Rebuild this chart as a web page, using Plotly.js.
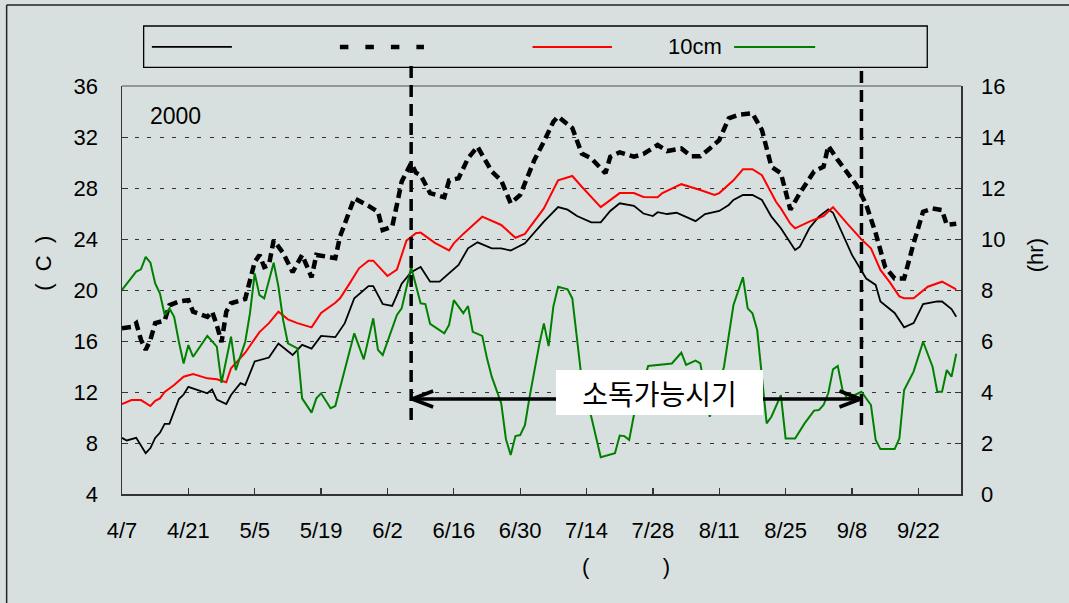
<!DOCTYPE html>
<html>
<head>
<meta charset="utf-8">
<script src="https://cdn.plot.ly/plotly-3.0.1.min.js"></script>
<style>html,body{margin:0;padding:0;background:#d8e0df;}</style>
</head>
<body>
<div id="chart" style="width:1069px;height:603px;"></div>
<script>
// ---- data (year 2000) ----
const airDates = ['4/7','4/8','4/10','4/12','4/13','4/14','4/15','4/16','4/17','4/19','4/20','4/21','4/23','4/25','4/26','4/27','4/29','4/30','5/2','5/3','5/5','5/7','5/8','5/10','5/13','5/15','5/17','5/19','5/22','5/24','5/26','5/29','5/30','6/1','6/3','6/4','6/5','6/7','6/9','6/11','6/13','6/17','6/19','6/21','6/24','6/26','6/28','7/1','7/5','7/8','7/10','7/12','7/15','7/17','7/19','7/21','7/24','7/26','7/28','7/29','7/31','8/2','8/4','8/6','8/8','8/11','8/13','8/14','8/16','8/18','8/20','8/22','8/24','8/27','8/28','8/30','9/1','9/3','9/4','9/6','9/8','9/11','9/13','9/14','9/17','9/19','9/21','9/23','9/26','9/27','9/29','9/30'];
const airTemp = [8.4,8.2,8.4,7.2,7.6,8.4,8.8,9.5,9.5,11.45,11.8,12.4,12.15,11.9,12.2,11.4,11.06,11.76,12.7,12.55,14.4,14.6,14.7,15.8,14.9,15.7,15.4,16.4,16.3,17.4,19.35,20.3,20.3,18.9,18.75,19.6,20.5,21.4,21.8,20.65,20.65,21.96,23.27,23.74,23.27,23.27,23.1,23.66,25.36,26.5,26.3,25.8,25.3,25.3,26.2,26.8,26.6,26.0,25.8,26.1,25.96,26.06,25.7,25.4,25.96,26.2,26.67,27.06,27.45,27.45,27.06,25.75,24.84,23.14,23.4,24.84,25.75,26.33,26.06,24.45,22.75,20.9,20.4,19.1,18.2,17.07,17.4,18.9,19.1,19.1,18.5,17.9];

const maxDates = ['4/7','4/9','4/10','4/11','4/12','4/13','4/14','4/16','4/17','4/19','4/21','4/22','4/25','4/26','4/27','4/28','4/29','4/30','5/3','5/5','5/6','5/7','5/8','5/9','5/11','5/13','5/15','5/17','5/18','5/22','5/23','5/26','5/29','5/31','6/1','6/3','6/4','6/5','6/7','6/8','6/9','6/11','6/14','6/15','6/17','6/19','6/21','6/24','6/26','6/28','6/30','7/3','7/5','7/7','7/8','7/11','7/13','7/15','7/18','7/19','7/21','7/24','7/26','7/29','7/31','8/3','8/5','8/7','8/9','8/11','8/13','8/15','8/18','8/20','8/22','8/24','8/26','8/28','8/31','9/2','9/3','9/5','9/9','9/11','9/13','9/15','9/17','9/19','9/21','9/23','9/25','9/27','9/28','9/30'];
const maxTemp = [17.0,17.1,17.4,16.1,15.3,16.1,17.4,17.6,18.8,19.1,19.2,18.3,17.9,18.3,17.25,15.9,18.3,18.96,19.3,22.2,22.75,21.8,21.96,23.9,22.9,21.4,22.75,21.0,22.75,22.5,24.2,27.2,26.6,26.14,24.7,24.97,26.7,28.5,29.94,29.2,29.0,27.6,27.27,28.6,28.76,30.33,31.24,29.3,28.6,26.8,27.45,30.2,31.63,33.2,33.6,32.7,30.7,30.33,29.16,30.45,30.8,30.45,30.67,31.37,30.9,31.1,30.5,30.5,31.1,31.76,33.46,33.73,33.86,32.55,29.67,29.16,26.3,27.6,29.3,29.67,31.3,30.2,28.2,26.7,24.45,21.8,20.9,20.9,23.66,26.14,26.4,26.27,25.1,25.2];

const soilDates = ['4/7','4/9','4/11','4/13','4/14','4/15','4/16','4/18','4/20','4/22','4/25','4/27','4/29','4/30','5/3','5/6','5/8','5/10','5/12','5/14','5/17','5/19','5/22','5/23','5/25','5/27','5/29','5/30','6/2','6/4','6/6','6/8','6/9','6/12','6/15','6/16','6/18','6/22','6/26','6/29','7/1','7/5','7/8','7/11','7/13','7/17','7/21','7/24','7/26','7/29','7/30','8/3','8/7','8/10','8/11','8/14','8/16','8/18','8/20','8/23','8/24','8/26','8/27','8/30','9/2','9/4','9/7','9/10','9/12','9/14','9/16','9/18','9/19','9/21','9/24','9/27','9/30'];
const soilTemp10cm = [11.06,11.37,11.37,10.9,11.3,11.5,12.0,12.55,13.2,13.4,13.07,13.0,12.76,13.86,15.08,16.7,17.4,18.3,17.7,17.4,17.07,18.2,19.0,19.35,20.5,21.7,22.3,22.3,21.1,21.6,23.87,24.45,24.5,23.7,23.1,23.66,24.4,25.75,25.1,24.1,24.4,26.4,28.6,28.94,28.1,26.5,27.6,27.6,27.3,27.27,27.6,28.3,27.84,27.45,27.6,28.6,29.47,29.47,29.0,26.9,26.4,25.2,24.84,25.36,25.8,26.5,25.2,23.97,23.27,21.57,20.6,19.5,19.35,19.35,20.26,20.65,20.05];

const sunDates = ['4/7','4/8','4/10','4/11','4/12','4/13','4/14','4/15','4/16','4/17','4/18','4/19','4/20','4/21','4/22','4/25','4/27','4/28','4/30','5/1','5/3','5/4','5/5','5/6','5/7','5/9','5/10','5/11','5/12','5/14','5/15','5/17','5/18','5/19','5/21','5/22','5/23','5/26','5/28','5/30','5/31','6/1','6/4','6/5','6/7','6/8','6/9','6/10','6/11','6/14','6/15','6/16','6/18','6/19','6/20','6/22','6/23','6/24','6/26','6/27','6/28','6/29','6/30','7/1','7/2','7/4','7/5','7/6','7/7','7/8','7/10','7/11','7/12','7/13','7/15','7/17','7/20','7/21','7/22','7/23','7/24','7/27','8/1','8/3','8/4','8/6','8/7','8/9','8/12','8/14','8/16','8/17','8/18','8/19','8/20','8/21','8/22','8/24','8/25','8/27','8/29','8/31','9/1','9/2','9/3','9/4','9/5','9/6','9/7','9/10','9/12','9/13','9/14','9/17','9/18','9/19','9/21','9/23','9/25','9/26','9/27','9/28','9/29','9/30'];
const sunHours = [8.0,8.24,8.72,8.81,9.3,9.07,8.26,7.87,7.02,7.28,6.95,5.97,5.12,5.84,5.38,6.2,5.78,4.36,6.17,4.86,5.97,7.09,8.65,7.8,7.67,9.07,8.13,6.82,5.91,5.71,3.75,3.19,3.75,3.95,3.36,3.45,4.14,6.3,5.28,6.89,5.65,5.45,7.02,7.28,8.89,8.13,7.48,7.45,6.67,6.3,6.63,7.6,7.09,7.37,6.36,6.2,5.32,4.6,3.56,2.15,1.53,2.27,2.31,2.7,3.82,5.84,6.69,5.8,7.35,8.13,8.03,7.67,6.04,4.47,3.03,1.44,1.6,2.29,2.27,2.12,3.1,5.02,5.12,5.54,5.06,5.23,5.12,3.03,4.99,7.41,8.5,7.28,7.09,6.43,4.6,2.77,3.03,3.88,2.18,2.18,2.77,3.27,3.29,3.49,3.95,4.89,5.02,4.08,3.75,4.01,3.49,2.12,1.76,1.76,2.18,4.08,4.8,5.97,4.99,4.01,4.01,4.86,4.6,5.5];

const yearLabel = '2000';
const soilLegendLabel = '10cm';
const periodLabel = '소독가능시기';
const periodStart = '6/7';
const periodEnd = '9/10';
const periodArrowLevel = 11.45;

// ---- helpers ----
const YEAR = 2000;
function toISO(md) {
  const [m, d] = md.split('/').map(Number);
  return YEAR + '-' + String(m).padStart(2, '0') + '-' + String(d).padStart(2, '0');
}

const FONT = 'Liberation Sans, Arial, sans-serif';
const BG = '#d8e0df';

const traces = [
  { x: airDates.map(toISO), y: airTemp, type: 'scatter', mode: 'lines',
    line: { color: '#000000', width: 1.8 }, yaxis: 'y', hoverinfo: 'skip' },
  { x: maxDates.map(toISO), y: maxTemp, type: 'scatter', mode: 'lines',
    line: { color: '#000000', width: 4.5, dash: '9px,5px' }, yaxis: 'y', hoverinfo: 'skip' },
  { x: soilDates.map(toISO), y: soilTemp10cm, type: 'scatter', mode: 'lines',
    line: { color: '#ff0000', width: 2 }, yaxis: 'y', hoverinfo: 'skip' },
  { x: sunDates.map(toISO), y: sunHours, type: 'scatter', mode: 'lines',
    line: { color: '#008000', width: 2 }, yaxis: 'y2', hoverinfo: 'skip' }
];

const ps = toISO(periodStart), pe = toISO(periodEnd);
const headLines = (anchor, sgn) => [8, -8].map(dy => ({
  type: 'line', xref: 'x', yref: 'y', xsizemode: 'pixel', ysizemode: 'pixel',
  xanchor: anchor, yanchor: periodArrowLevel,
  x0: sgn * 1, y0: 0, x1: sgn * 22, y1: dy,
  line: { color: '#000', width: 3.5 }, layer: 'above'
}));

const shapes = [
  // plot-area top border
  { type: 'line', xref: 'paper', yref: 'paper', x0: 0, x1: 1, y0: 1, y1: 1, line: { color: '#7f7f7f', width: 1.5 } },
  // outer frame (left and top visible)
  { type: 'line', xref: 'paper', yref: 'paper', x0: -0.1375, x1: -0.1375, y0: -0.3, y1: 1.1985, line: { color: '#222', width: 1.5 } },
  { type: 'line', xref: 'paper', yref: 'paper', x0: -0.1375, x1: 1.2, y0: 1.1985, y1: 1.1985, line: { color: '#222', width: 1.5 } },
  // legend box and samples
  { type: 'rect', xref: 'paper', yref: 'paper', x0: 0.0258, x1: 0.9598, y0: 1.0458, y1: 1.147, line: { color: '#000', width: 1.3 }, fillcolor: 'rgba(0,0,0,0)' },
  { type: 'line', xref: 'paper', yref: 'paper', x0: 0.0356, x1: 0.1310, y0: 1.0958, y1: 1.0958, line: { color: '#000', width: 1.8 } },
  { type: 'line', xref: 'paper', yref: 'paper', x0: 0.2597, x1: 0.3599, y0: 1.0958, y1: 1.0958, line: { color: '#000', width: 4.5, dash: '8.5px,17px' } },
  { type: 'line', xref: 'paper', yref: 'paper', x0: 0.4893, x1: 0.5840, y0: 1.0958, y1: 1.0958, line: { color: '#ff0000', width: 2 } },
  { type: 'line', xref: 'paper', yref: 'paper', x0: 0.7296, x1: 0.8262, y0: 1.0958, y1: 1.0958, line: { color: '#008000', width: 2 } },
  // period boundaries
  { type: 'line', xref: 'x', yref: 'paper', x0: ps, x1: ps, y0: 0.1814, y1: 1.0537, line: { color: '#000', width: 3.5, dash: '12px,7px' }, layer: 'above' },
  { type: 'line', xref: 'x', yref: 'paper', x0: pe, x1: pe, y0: 0.169, y1: 1.0537, line: { color: '#000', width: 3.5, dash: '12px,7px' }, layer: 'above' },
  // period arrow
  { type: 'line', xref: 'x', yref: 'y', x0: ps, x1: pe, y0: periodArrowLevel, y1: periodArrowLevel, line: { color: '#000', width: 3.5 }, layer: 'above' },
  ...headLines(ps, 1),
  ...headLines(pe, -1)
];

const annotations = [
  { text: yearLabel, xref: 'paper', yref: 'paper', x: 0.031, y: 0.9265, xanchor: 'left', yanchor: 'middle', showarrow: false, font: { family: FONT, size: 23, color: '#000' } },
  { text: soilLegendLabel, xref: 'paper', yref: 'paper', x: 0.6829, y: 1.0958, xanchor: 'center', yanchor: 'middle', showarrow: false, font: { family: FONT, size: 22, color: '#000' } },
  { text: '(\u00A0\u00A0C\u00A0\u00A0)', xref: 'paper', yref: 'paper', x: -0.0946, y: 0.566, textangle: -90, xanchor: 'center', yanchor: 'middle', showarrow: false, font: { family: FONT, size: 22, color: '#000' } },
  { text: '(hr)', xref: 'paper', yref: 'paper', x: 1.0898, y: 0.586, textangle: -90, xanchor: 'center', yanchor: 'middle', showarrow: false, font: { family: FONT, size: 22, color: '#000' } },
  { text: '(' + '\u00A0'.repeat(12) + ')', xref: 'paper', yref: 'paper', x: 0.6006, y: -0.1765, xanchor: 'center', yanchor: 'middle', showarrow: false, font: { family: FONT, size: 22, color: '#000' } },
  { text: periodLabel, xref: 'paper', yref: 'paper', x: 0.6407, y: 0.2488, xanchor: 'center', yanchor: 'middle', showarrow: false,
    width: 203, height: 41, bgcolor: '#ffffff', borderpad: 2, borderwidth: 0,
    font: { family: 'Noto Sans CJK KR, sans-serif', size: 28, color: '#000' } }
];

const layout = {
  width: 1069, height: 603,
  margin: { l: 122, r: 108, t: 86, b: 109, pad: 0 },
  paper_bgcolor: BG, plot_bgcolor: BG,
  showlegend: false,
  font: { family: FONT, size: 22, color: '#000' },
  xaxis: {
    type: 'date', range: ['2000-04-07', '2000-10-01'],
    tick0: '2000-04-07', dtick: 14 * 86400000, tickformat: '%-m/%-d',
    ticks: 'inside', ticklen: 6, tickwidth: 1.3, tickcolor: '#333',
    showline: true, linecolor: '#333', linewidth: 1.5,
    showgrid: false, zeroline: false, ticklabelstandoff: 16,
    tickfont: { family: FONT, size: 22, color: '#000' }
  },
  yaxis: {
    range: [4, 36], tick0: 4, dtick: 4,
    ticks: 'inside', ticklen: 6, tickcolor: '#333',
    showline: true, linecolor: '#333', linewidth: 1.5,
    showgrid: true, gridcolor: '#333', gridwidth: 1, griddash: '4px,8.5px',
    zeroline: false, ticklabelstandoff: 18,
    tickfont: { family: FONT, size: 22, color: '#000' }
  },
  yaxis2: {
    range: [0, 16], tick0: 0, dtick: 2, overlaying: 'y', side: 'right',
    ticks: 'inside', ticklen: 6, tickcolor: '#333',
    showline: true, linecolor: '#333', linewidth: 1.5,
    showgrid: false, zeroline: false, ticklabelstandoff: 14,
    tickfont: { family: FONT, size: 22, color: '#000' }
  },
  shapes: shapes,
  annotations: annotations
};

Plotly.newPlot('chart', traces, layout, { displayModeBar: false, staticPlot: true });
</script>
</body>
</html>
